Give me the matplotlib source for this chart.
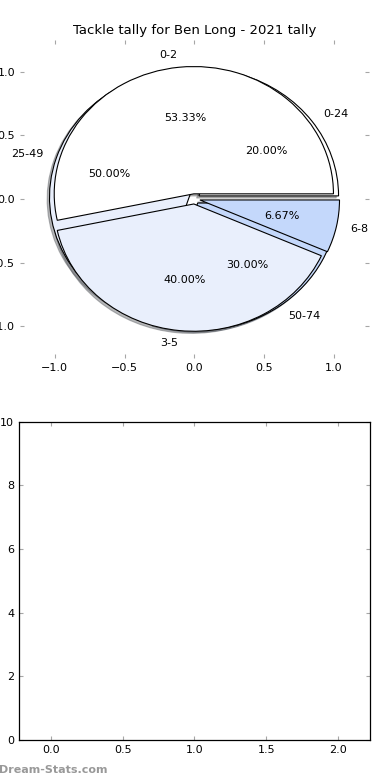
import matplotlib
matplotlib.use("Agg")
import matplotlib.pyplot as plt

# tackle counts per game bracket
tackle_labels = ["0-2", "3-5", "6-8"]
tackle_values = [8, 6, 1]
# minutes played brackets
minute_labels = ["0-24", "25-49", "50-74"]
minute_values = [2, 5, 3]

colors = ["#ffffff", "#e9effc", "#c4d8fb"]
title = "Tackle tally for Ben Long - 2021 tally"

plt.rcParams["font.family"] = "DejaVu Sans"
fig = plt.figure(figsize=(3.9, 7.8), dpi=100)

ax = fig.add_axes([0.051, 0.541, 0.895, 0.408])
wp = {"edgecolor": "black", "linewidth": 0.8}
sh = {"ox": -0.012, "oy": -0.012, "shade": 0.6, "alpha": 0.45}
# second pie goes underneath, first pie on top
ax.pie(minute_values, labels=minute_labels, colors=colors, autopct="%.2f%%",
       explode=[0.04] * 3, shadow=sh, wedgeprops=wp, frame=True,
       textprops={"fontsize": 8})
ax.pie(tackle_values, labels=tackle_labels, colors=colors, autopct="%.2f%%",
       explode=[0.04] * 3, shadow=sh, wedgeprops=wp, frame=True,
       textprops={"fontsize": 8})
ax.set_aspect("auto")
ax.set_xlim(-1.25, 1.25)
ax.set_ylim(-1.25, 1.25)
ax.set_xticks([-1.0, -0.5, 0.0, 0.5, 1.0])
ax.set_yticks([-1.0, -0.5, 0.0, 0.5, 1.0])
ax.set_frame_on(False)
ax.tick_params(direction="in", color="0.65", length=3, top=True, right=True,
               labelsize=8)
ax.set_title(title, fontsize=9.5, pad=4)

ax2 = fig.add_axes([0.049, 0.0513, 0.899, 0.408])
ax2.set_xlim(-0.22, 2.22)
ax2.set_ylim(0, 10)
ax2.set_xticks([0.0, 0.5, 1.0, 1.5, 2.0])
ax2.set_yticks([0, 2, 4, 6, 8, 10])
ax2.tick_params(direction="in", color="0.65", length=3, top=True, right=True,
                labelsize=8)
for s in ax2.spines.values():
    s.set_linewidth(0.9)

fig.text(-0.003, 0.013, "Dream-Stats.com", color="#999999", fontsize=8,
         fontweight="bold", ha="left", va="center")

fig.savefig("out.png", dpi=100)
